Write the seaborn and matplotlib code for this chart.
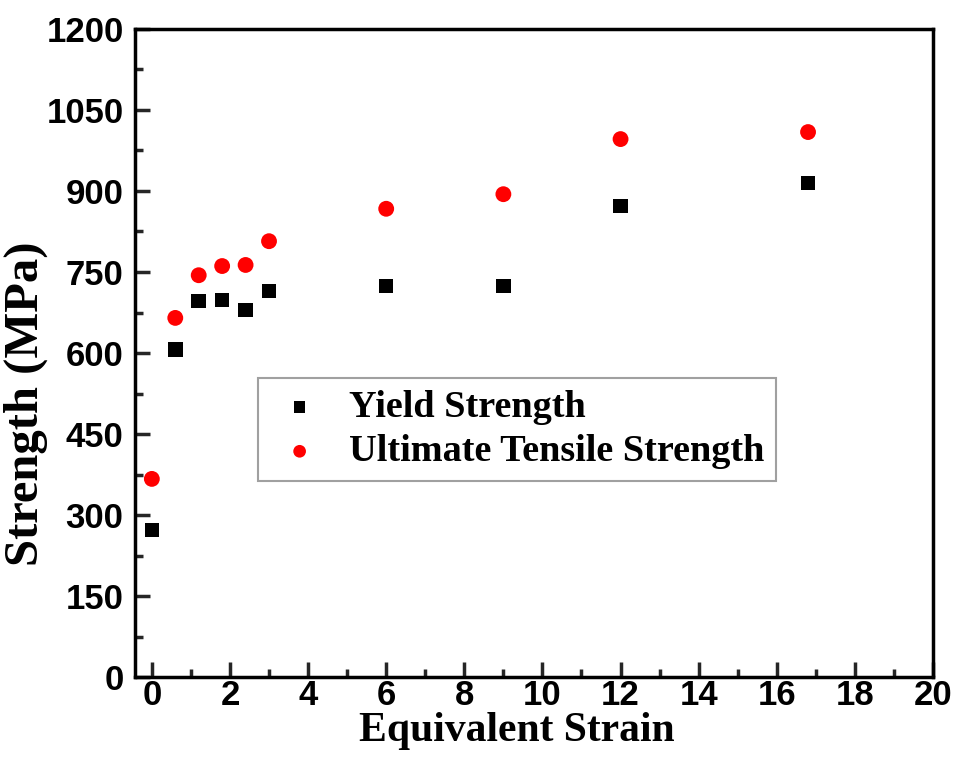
import seaborn as sns
import pandas as pd
import matplotlib.pyplot as plt
from matplotlib.ticker import MultipleLocator

strain = [0, 0.6, 1.2, 1.8, 2.4, 3.0, 6, 9, 12, 16.8]
yield_strength = [272, 606, 696, 698, 680, 715, 724, 724, 872, 915]
uts = [367, 665, 744, 761, 763, 807, 867, 894, 996, 1009]

df = pd.DataFrame({'strain': strain, 'ys': yield_strength, 'uts': uts})

sns.set_style('ticks')
fig = plt.figure(figsize=(9.55, 7.6), dpi=100)
ax = fig.add_axes([0.141, 0.109, 0.836, 0.853])

sns.scatterplot(data=df, x='strain', y='ys', ax=ax, marker='s', color='black',
                s=110, edgecolor='none', label='Yield Strength')
sns.scatterplot(data=df, x='strain', y='uts', ax=ax, marker='o', color='#ff0000',
                s=130, edgecolor='none', label='Ultimate Tensile Strength')

ax.set_xlim(-0.44, 20)
ax.set_ylim(0, 1200)
ax.xaxis.set_major_locator(MultipleLocator(2))
ax.xaxis.set_minor_locator(MultipleLocator(1))
ax.yaxis.set_major_locator(MultipleLocator(150))
ax.yaxis.set_minor_locator(MultipleLocator(75))
ax.tick_params(which='major', direction='in', length=11, width=2.5,
               top=False, right=False, labelsize=25, labelcolor='black')
ax.tick_params(axis='x', which='major', pad=1)
ax.tick_params(axis='y', which='major', pad=8)
ax.tick_params(which='minor', direction='in', length=6, width=2.5,
               top=False, right=False)
for lab in ax.get_xticklabels() + ax.get_yticklabels():
    lab.set_fontfamily('Liberation Sans')
    lab.set_fontweight('bold')
for sp in ax.spines.values():
    sp.set_linewidth(2.5)
    sp.set_color('black')

ax.set_xlabel('Equivalent Strain', fontfamily='Liberation Serif', fontweight='bold',
              fontsize=30, color='black')
ax.xaxis.set_label_coords(0.479, -0.054)
ax.set_ylabel('Strength (MPa)', fontfamily='Liberation Serif', fontweight='bold',
              fontsize=35, color='black')
ax.yaxis.set_label_coords(-0.108, 0.421)

leg = ax.legend(loc='upper left', bbox_to_anchor=(0.154, 0.461), fancybox=False,
                prop={'family': 'Liberation Serif', 'weight': 'bold', 'size': 27.5},
                handlelength=1.6, handletextpad=0.5, borderpad=0.3,
                labelspacing=0.25, borderaxespad=0, markerscale=0.8)
leg.get_frame().set_edgecolor('#888888')
leg.get_frame().set_linewidth(1.5)
for t in leg.get_texts():
    t.set_color('black')

fig.savefig('out.png', dpi=100)
